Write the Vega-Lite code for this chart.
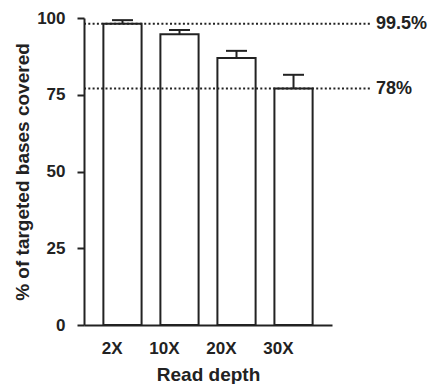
{
  "$schema": "https://vega.github.io/schema/vega-lite/v6.json",
  "autosize": "none",
  "width": 248,
  "height": 307,
  "padding": {"left": 84, "top": 18, "right": 99, "bottom": 59},
  "config": {
    "view": {"stroke": null},
    "font": "Liberation Sans",
    "axis": {
      "labelFont": "Liberation Sans", "labelFontWeight": "bold", "labelFontSize": 17, "labelColor": "#222",
      "titleFont": "Liberation Sans", "titleFontWeight": "bold", "titleFontSize": 19, "titleColor": "#222",
      "domainColor": "#222", "domainWidth": 2, "tickColor": "#222", "tickWidth": 2, "grid": false
    }
  },
  "datasets": {
    "bars": [
      {"depth": "2X", "pct": 98.1, "upper": 99.3},
      {"depth": "10X", "pct": 94.7, "upper": 96.1},
      {"depth": "20X", "pct": 87.0, "upper": 89.3},
      {"depth": "30X", "pct": 77.0, "upper": 81.5}
    ],
    "refs": [
      {"y": 98.1, "label": "99.5%"},
      {"y": 77.0, "label": "78%"}
    ]
  },
  "layer": [
    {
      "data": {"name": "bars"},
      "mark": {"type": "rule", "stroke": "#222", "strokeWidth": 2},
      "encoding": {
        "x": {"field": "depth", "type": "nominal", "sort": null},
        "y": {"field": "pct", "type": "quantitative"},
        "y2": {"field": "upper"}
      }
    },
    {
      "data": {"name": "bars"},
      "mark": {"type": "tick", "orient": "horizontal", "size": 21, "thickness": 2, "color": "#222", "opacity": 1},
      "encoding": {
        "x": {"field": "depth", "type": "nominal", "sort": null},
        "y": {"field": "upper", "type": "quantitative"}
      }
    },
    {
      "data": {"name": "bars"},
      "mark": {"type": "bar", "fill": "white", "stroke": "#222", "strokeWidth": 2},
      "encoding": {
        "x": {
          "field": "depth", "type": "nominal", "sort": null,
          "scale": {"paddingInner": 0.33, "paddingOuter": 0.34},
          "axis": {"title": "Read depth", "labelAngle": 0, "ticks": false, "tickSize": 0, "labelPadding": 23, "labelFontSize": 17, "titlePadding": 9}
        },
        "y": {
          "field": "pct", "type": "quantitative",
          "scale": {"domain": [0, 100], "nice": false},
          "axis": {"title": "% of targeted bases covered", "values": [0, 25, 50, 75, 100], "tickSize": 7, "labelPadding": 12, "titlePadding": 4}
        }
      }
    },
    {
      "data": {"name": "refs"},
      "mark": {"type": "rule", "stroke": "#222", "strokeWidth": 2, "strokeDash": [2, 2.3], "x2Offset": 40},
      "encoding": {
        "x": {"value": 0},
        "x2": {"value": "width"},
        "y": {"field": "y", "type": "quantitative"}
      }
    },
    {
      "data": {"name": "refs"},
      "mark": {"type": "text", "x": "width", "dx": 44, "align": "left", "baseline": "middle", "fontWeight": "bold", "fontSize": 18, "font": "Liberation Sans", "color": "#222"},
      "encoding": {
        "y": {"field": "y", "type": "quantitative"},
        "text": {"field": "label"}
      }
    }
  ]
}
